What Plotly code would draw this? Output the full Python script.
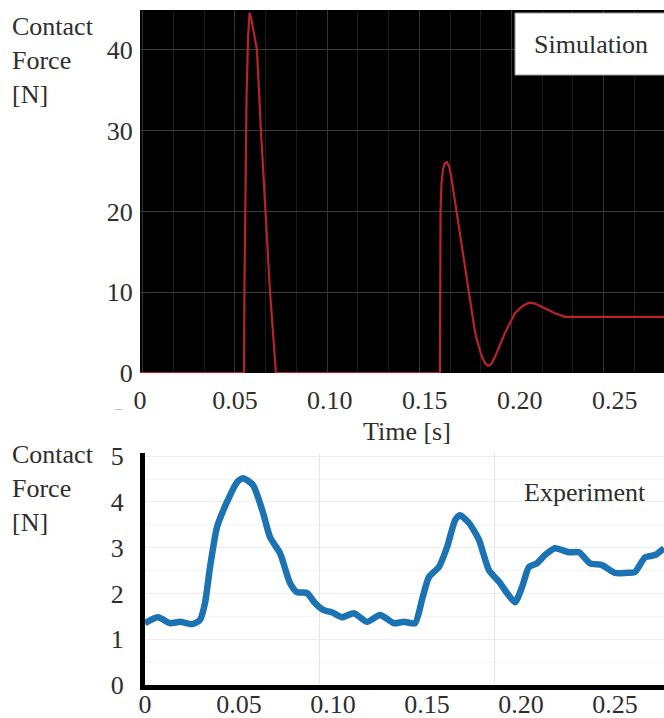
import plotly.graph_objects as go

# ---------------- data ----------------
# Simulation (top panel): time [s], contact force [N]
sim_t = [0.0, 0.0548, 0.0550, 0.0553, 0.0561, 0.0569, 0.0577, 0.0585, 0.0600,
         0.0616, 0.0637, 0.0658, 0.0685, 0.0716, 0.1580, 0.1583, 0.1588,
         0.1596, 0.1606, 0.1617, 0.1628, 0.1638, 0.1659, 0.1686, 0.1712,
         0.1738, 0.1765, 0.1785, 0.1801, 0.1818, 0.1833, 0.1850, 0.1870,
         0.1923, 0.1975, 0.2015, 0.2049, 0.2080, 0.2117, 0.2186, 0.2239,
         0.2760]
sim_f = [0.0, 0.0, 10.0, 20.0, 34.0, 41.5, 44.6, 44.0, 42.0,
         40.0, 30.0, 21.3, 10.0, 0.0, 0.0, 20.0, 23.5,
         25.2, 26.0, 26.1, 25.6, 24.5, 21.3, 17.3, 13.1,
         9.0, 5.0, 3.2, 2.0, 1.2, 0.87, 1.1, 2.0,
         5.0, 7.4, 8.3, 8.7, 8.6, 8.2, 7.4, 6.95,
         6.95]

# Experiment (bottom panel): time [s], contact force [N]
exp_t = [0.0, 0.0069, 0.0133, 0.0186, 0.0250, 0.0292, 0.0319, 0.0346, 0.0383,
         0.0436, 0.0489, 0.0521, 0.0574, 0.0628, 0.0665, 0.0718, 0.0771,
         0.0808, 0.0862, 0.0904, 0.0947, 0.0994, 0.1048, 0.1111, 0.1181,
         0.1250, 0.1324, 0.1377, 0.1436, 0.1473, 0.1510, 0.1563, 0.1606,
         0.1649, 0.1675, 0.1723, 0.1776, 0.1829, 0.1888, 0.1925, 0.1968,
         0.2005, 0.2042, 0.2085, 0.2127, 0.2180, 0.2255, 0.2308, 0.2367,
         0.2430, 0.2499, 0.2553, 0.2606, 0.2659, 0.2712, 0.2760]
exp_f = [1.35, 1.48, 1.35, 1.38, 1.33, 1.42, 1.79, 2.58, 3.45,
         4.00, 4.43, 4.52, 4.37, 3.76, 3.23, 2.88, 2.23,
         2.03, 2.01, 1.79, 1.64, 1.59, 1.48, 1.57, 1.38,
         1.53, 1.35, 1.38, 1.35, 1.86, 2.36, 2.58, 3.01,
         3.60, 3.71, 3.54, 3.17, 2.51, 2.23, 2.01, 1.81,
         2.14, 2.58, 2.66, 2.84, 2.99, 2.90, 2.90, 2.66,
         2.62, 2.45, 2.45, 2.47, 2.79, 2.84, 2.99]

x_ticks = [0, 0.05, 0.10, 0.15, 0.20, 0.25]
x_ticktext = ["0", "0.05", "0.10", "0.15", "0.20", "0.25"]
sim_yticks = [0, 10, 20, 30, 40]
exp_yticks = [0, 1, 2, 3, 4, 5]

# ---------------- layout helpers ----------------
W, H = 664, 718
def px(x):
    return x / W
def py(y):
    return 1 - y / H

FONT = "Liberation Serif, Times New Roman, serif"
TXT = "#2e2e2e"

fig = go.Figure()
fig.add_trace(go.Scatter(x=sim_t, y=sim_f, xaxis="x", yaxis="y", mode="lines",
                         line=dict(color="#b8232c", width=2.2), hoverinfo="skip",
                         showlegend=False))
fig.add_trace(go.Scatter(x=exp_t, y=exp_f, xaxis="x2", yaxis="y2", mode="lines",
                         line=dict(color="#1b73b3", width=6.5, shape="spline", smoothing=0.6),
                         hoverinfo="skip", showlegend=False))
# empty traces so the grid-only overlay axes are drawn
fig.add_trace(go.Scatter(x=[], y=[], xaxis="x3", yaxis="y", showlegend=False))
fig.add_trace(go.Scatter(x=[], y=[], xaxis="x4", yaxis="y2", showlegend=False))

top_dom_y = [py(373), py(10)]
bot_dom_y = [py(685), py(453)]

fig.update_layout(
    width=W, height=H,
    margin=dict(l=0, r=0, t=0, b=0),
    paper_bgcolor="white",
    plot_bgcolor="black",
    font=dict(family=FONT, size=26, color=TXT),
    showlegend=False,
    xaxis=dict(domain=[px(140), 1], anchor="y", range=[0, 0.276],
               tickvals=x_ticks, ticktext=x_ticktext, showgrid=False,
               zeroline=False, ticks="outside", ticklen=4,
               tickcolor="rgba(0,0,0,0)", automargin=False),
    yaxis=dict(domain=top_dom_y, anchor="x", range=[0, 44.95],
               tickvals=sim_yticks, showgrid=True, gridcolor="#3a3a3a",
               dtick=5, zeroline=False, ticks="outside", ticklen=1,
               tickcolor="rgba(0,0,0,0)", automargin=False),
    xaxis3=dict(overlaying="x", anchor="y", range=[-0.0293, 5.654], dtick=1,
                tick0=0, showgrid=True, gridcolor="#333333", showticklabels=False,
                zeroline=False, ticks="",
                minor=dict(dtick=1/3, showgrid=True, gridcolor="#1c1c1c"),
                automargin=False),
    xaxis2=dict(domain=[px(145), 1], anchor="y2", range=[0, 0.276],
                tickvals=x_ticks, ticktext=x_ticktext, showgrid=False,
                zeroline=False, showline=True, linecolor="black", linewidth=5,
                ticks="", ticklabelstandoff=-8, automargin=False),
    yaxis2=dict(domain=bot_dom_y, anchor="x2", range=[0, 5.07],
                tickvals=exp_yticks, showgrid=True, gridcolor="#ededed",
                zeroline=False, showline=True, linecolor="black", linewidth=5,
                ticks="outside", ticklen=11, tickcolor="rgba(0,0,0,0)",
                minor=dict(dtick=0.5, showgrid=True, gridcolor="#f4f4f4"),
                automargin=False),
    xaxis4=dict(overlaying="x2", anchor="y2", range=[0, 2.966], dtick=1,
                showgrid=True, gridcolor="#e4e4e4", showticklabels=False,
                zeroline=False, ticks="", automargin=False),
)

# white background for the lower panel
fig.add_shape(type="rect", xref="paper", yref="paper", layer="below",
              x0=px(145), x1=1, y0=bot_dom_y[0], y1=bot_dom_y[1],
              fillcolor="white", line=dict(width=0))

# "Simulation" label box
fig.add_shape(type="rect", xref="paper", yref="paper",
              x0=px(515), x1=px(666), y0=py(75), y1=py(13),
              fillcolor="white", line=dict(color="#9a9a9a", width=1))
fig.add_annotation(x=px(591), y=py(45), xref="paper", yref="paper",
                   text="Simulation", showarrow=False,
                   xanchor="center", yanchor="middle", font=dict(size=26, color=TXT))
fig.add_annotation(x=px(585), y=py(492), xref="paper", yref="paper",
                   text="Experiment", showarrow=False,
                   xanchor="center", yanchor="middle", font=dict(size=26, color=TXT))
fig.add_annotation(x=px(407), y=py(431), xref="paper", yref="paper",
                   text="Time [s]", showarrow=False,
                   xanchor="center", yanchor="middle", font=dict(size=26, color=TXT))
fig.add_annotation(x=px(10), y=py(10), xref="paper", yref="paper",
                   text="Contact<br>Force<br>[N]", showarrow=False, align="left",
                   xanchor="left", yanchor="top", font=dict(size=26, color=TXT))
fig.add_annotation(x=px(10), y=py(438), xref="paper", yref="paper",
                   text="Contact<br>Force<br>[N]", showarrow=False, align="left",
                   xanchor="left", yanchor="top", font=dict(size=26, color=TXT))
fig.add_annotation(x=px(118), y=py(408), xref="paper", yref="paper",
                   text="–", showarrow=False, xanchor="center", yanchor="middle",
                   font=dict(size=14, color="#b0b0b0"))

fig.write_html("out.html",
               config={"displayModeBar": False},
               post_script="document.body.style.margin='0';"
                           "document.body.style.overflow='hidden';")
